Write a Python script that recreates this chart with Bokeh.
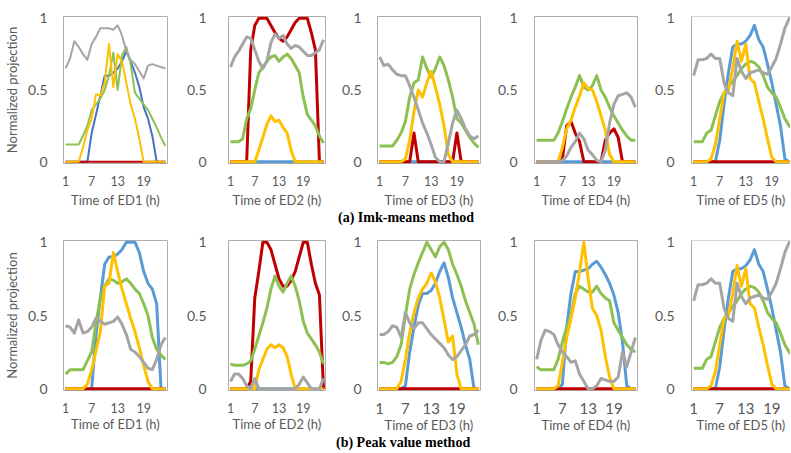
from bokeh.plotting import figure
from bokeh.layouts import row, column
from bokeh.models import Div, FixedTicker, Range1d, Span
from bokeh.embed import file_html
from bokeh.resources import INLINE

hours = [1, 2, 3, 4, 5, 6, 7, 8, 9, 10, 11, 12, 13, 14, 15, 16, 17, 18, 19, 20, 21, 22, 23, 24]
x_ticks = [1, 7, 13, 19]
x_tick_labels = ["1", "7", "13", "19"]
y_ticks = [0, 0.5, 1]
y_tick_labels = ["0", "0.5", "1"]
ed_names = ["ED1", "ED2", "ED3", "ED4", "ED5"]
captions = ["(a) Imk-means method", "(b) Peak value method"]
y_title = "Normalized projection"

# ---------------- (a) Imk-means method ----------------
a_ed1_blue = [0, 0, 0, 0, 0, 0, 0.2, 0.33, 0.46, 0.6, 0.6, 0.62, 0.65, 0.7, 0.77, 0.7, 0.62, 0.52, 0.38, 0.3, 0.18, 0, 0, 0]
a_ed1_red = [0, 0, 0, 0, 0, 0, 0, 0, 0, 0, 0, 0, 0, 0, 0, 0, 0, 0, 0, 0, 0, 0, 0, 0]
a_ed1_green = [0.12, 0.12, 0.12, 0.12, 0.18, 0.25, 0.36, 0.4, 0.44, 0.5, 0.6, 0.76, 0.5, 0.74, 0.8, 0.68, 0.48, 0.44, 0.4, 0.36, 0.3, 0.24, 0.17, 0.11]
a_ed1_yellow = [0, 0, 0, 0, 0.1, 0.22, 0.3, 0.47, 0.46, 0.55, 0.82, 0.52, 0.75, 0.7, 0.55, 0.4, 0.3, 0.16, 0, 0, 0, 0, 0, 0]
a_ed1_gray = [0.65, 0.72, 0.84, 0.8, 0.75, 0.71, 0.82, 0.87, 0.93, 0.93, 0.93, 0.92, 0.95, 0.88, 0.77, 0.71, 0.68, 0.63, 0.58, 0.67, 0.68, 0.67, 0.66, 0.65]

a_ed2_blue = [0, 0, 0, 0, 0, 0, 0, 0, 0, 0, 0, 0, 0, 0, 0, 0, 0, 0, 0, 0, 0, 0, 0, 0]
a_ed2_red = [0, 0, 0, 0, 0, 0.78, 0.95, 1, 1, 1, 0.95, 0.9, 0.86, 0.84, 0.87, 0.92, 0.97, 1, 1, 1, 0.9, 0.78, 0, 0]
a_ed2_green = [0.14, 0.14, 0.14, 0.16, 0.3, 0.37, 0.5, 0.62, 0.66, 0.7, 0.73, 0.74, 0.7, 0.73, 0.75, 0.72, 0.67, 0.62, 0.45, 0.33, 0.29, 0.25, 0.18, 0.13]
a_ed2_yellow = [0, 0, 0, 0, 0, 0, 0, 0.08, 0.17, 0.26, 0.32, 0.28, 0.29, 0.24, 0.2, 0.08, 0, 0, 0, 0, 0, 0, 0, 0]
a_ed2_gray = [0.66, 0.73, 0.77, 0.82, 0.87, 0.86, 0.78, 0.7, 0.65, 0.7, 0.83, 0.89, 0.86, 0.88, 0.82, 0.79, 0.81, 0.8, 0.77, 0.74, 0.74, 0.76, 0.78, 0.85]

a_ed3_blue = [0, 0, 0, 0, 0, 0, 0, 0, 0, 0, 0, 0, 0, 0, 0, 0, 0, 0, 0, 0, 0, 0, 0, 0]
a_ed3_red = [0, 0, 0, 0, 0, 0, 0, 0, 0.2, 0, 0, 0, 0, 0, 0, 0, 0, 0, 0.2, 0, 0, 0, 0, 0]
a_ed3_green = [0.11, 0.11, 0.11, 0.11, 0.15, 0.2, 0.28, 0.45, 0.55, 0.57, 0.73, 0.65, 0.59, 0.65, 0.73, 0.67, 0.57, 0.45, 0.3, 0.27, 0.22, 0.17, 0.13, 0.1]
a_ed3_yellow = [0, 0, 0, 0, 0, 0, 0.02, 0.15, 0.35, 0.5, 0.45, 0.55, 0.63, 0.52, 0.4, 0.25, 0.05, 0, 0, 0, 0, 0, 0, 0]
a_ed3_gray = [0.73, 0.67, 0.68, 0.64, 0.61, 0.6, 0.6, 0.53, 0.45, 0.36, 0.27, 0.2, 0.12, 0.03, 0, 0, 0.13, 0.27, 0.36, 0.3, 0.23, 0.18, 0.16, 0.18]

a_ed4_blue = [0, 0, 0, 0, 0, 0, 0, 0, 0, 0, 0, 0, 0, 0, 0, 0, 0, 0, 0, 0, 0, 0, 0, 0]
a_ed4_red = [0, 0, 0, 0, 0, 0, 0.02, 0.25, 0.28, 0.2, 0.14, 0, 0, 0, 0, 0, 0.15, 0.2, 0.23, 0.17, 0, 0, 0, 0]
a_ed4_green = [0.15, 0.15, 0.15, 0.15, 0.15, 0.2, 0.28, 0.37, 0.45, 0.52, 0.6, 0.52, 0.5, 0.53, 0.6, 0.5, 0.45, 0.38, 0.32, 0.27, 0.22, 0.18, 0.15, 0.15]
a_ed4_yellow = [0, 0, 0, 0, 0, 0, 0.1, 0.23, 0.29, 0.38, 0.46, 0.55, 0.51, 0.5, 0.42, 0.32, 0.22, 0.05, 0, 0, 0, 0, 0, 0]
a_ed4_gray = [0, 0, 0, 0, 0, 0, 0.01, 0.04, 0.1, 0.14, 0.2, 0.16, 0.08, 0.05, 0.01, 0, 0.08, 0.27, 0.4, 0.46, 0.47, 0.48, 0.45, 0.38]

a_ed5_blue = [0, 0, 0, 0, 0, 0, 0.15, 0.4, 0.62, 0.8, 0.82, 0.82, 0.84, 0.88, 0.95, 0.85, 0.8, 0.68, 0.55, 0.4, 0.25, 0.02, 0, 0]
a_ed5_red = [0, 0, 0, 0, 0, 0, 0, 0, 0, 0, 0, 0, 0, 0, 0, 0, 0, 0, 0, 0, 0, 0, 0, 0]
a_ed5_green = [0.14, 0.14, 0.14, 0.2, 0.22, 0.32, 0.42, 0.48, 0.52, 0.56, 0.6, 0.65, 0.68, 0.7, 0.69, 0.66, 0.6, 0.52, 0.48, 0.45, 0.38, 0.3, 0.25, 0.22]
a_ed5_yellow = [0, 0, 0, 0, 0.02, 0.12, 0.3, 0.48, 0.5, 0.65, 0.84, 0.7, 0.82, 0.58, 0.55, 0.42, 0.3, 0.16, 0.03, 0, 0, 0, 0, 0]
a_ed5_gray = [0.6, 0.71, 0.71, 0.72, 0.75, 0.72, 0.72, 0.55, 0.48, 0.46, 0.72, 0.63, 0.58, 0.62, 0.63, 0.64, 0.62, 0.61, 0.66, 0.72, 0.82, 0.93, 1.0, 1.0]

# ---------------- (b) Peak value method ----------------
b_ed1_blue = [0, 0, 0, 0, 0, 0, 0, 0.37, 0.62, 0.85, 0.9, 0.9, 0.92, 0.95, 1.0, 1.0, 1.0, 0.93, 0.8, 0.72, 0.68, 0.58, 0, 0]
b_ed1_red = [0, 0, 0, 0, 0, 0, 0, 0, 0, 0, 0, 0, 0, 0, 0, 0, 0, 0, 0, 0, 0, 0, 0, 0]
b_ed1_green = [0.1, 0.13, 0.13, 0.13, 0.13, 0.19, 0.25, 0.45, 0.62, 0.7, 0.75, 0.74, 0.72, 0.73, 0.75, 0.72, 0.68, 0.65, 0.58, 0.5, 0.35, 0.27, 0.23, 0.2]
b_ed1_yellow = [0, 0, 0, 0, 0, 0.03, 0.13, 0.26, 0.39, 0.7, 0.72, 0.93, 0.8, 0.68, 0.58, 0.48, 0.39, 0.28, 0.16, 0.05, 0, 0, 0, 0]
b_ed1_gray = [0.43, 0.42, 0.38, 0.47, 0.38, 0.39, 0.42, 0.48, 0.46, 0.44, 0.45, 0.46, 0.49, 0.44, 0.37, 0.27, 0.25, 0.22, 0.18, 0.14, 0.13, 0.2, 0.3, 0.35]

b_ed2_blue = [0, 0, 0, 0, 0, 0, 0, 0, 0, 0, 0, 0, 0, 0, 0, 0, 0, 0, 0, 0, 0, 0, 0, 0]
b_ed2_red = [0, 0, 0, 0, 0, 0.05, 0.62, 0.8, 1, 1, 0.95, 0.85, 0.75, 0.7, 0.7, 0.74, 0.8, 0.9, 1, 1, 0.85, 0.72, 0.64, 0]
b_ed2_green = [0.17, 0.16, 0.16, 0.16, 0.17, 0.19, 0.27, 0.36, 0.45, 0.55, 0.68, 0.77, 0.7, 0.66, 0.72, 0.77, 0.7, 0.6, 0.46, 0.38, 0.34, 0.3, 0.25, 0.17]
b_ed2_yellow = [0, 0, 0, 0, 0, 0, 0, 0.13, 0.2, 0.27, 0.3, 0.28, 0.3, 0.28, 0.22, 0.1, 0, 0, 0, 0, 0, 0, 0, 0]
b_ed2_gray = [0.05, 0.1, 0.1, 0.07, 0.02, 0, 0.07, 0, 0, 0, 0, 0, 0, 0, 0, 0, 0, 0.03, 0.08, 0.04, 0, 0, 0, 0.07]

b_ed3_blue = [0, 0, 0, 0, 0, 0, 0.02, 0.25, 0.42, 0.57, 0.65, 0.65, 0.67, 0.72, 0.8, 0.86, 0.76, 0.62, 0.52, 0.42, 0.3, 0.2, 0, 0]
b_ed3_red = [0, 0, 0, 0, 0, 0, 0, 0, 0, 0, 0, 0, 0, 0, 0, 0, 0, 0, 0, 0, 0, 0, 0, 0]
b_ed3_green = [0.18, 0.18, 0.17, 0.18, 0.22, 0.3, 0.5, 0.68, 0.78, 0.86, 0.93, 1.0, 0.95, 0.9, 0.97, 1.0, 0.95, 0.85, 0.78, 0.7, 0.6, 0.52, 0.44, 0.3]
b_ed3_yellow = [0, 0, 0, 0, 0, 0.05, 0.2, 0.38, 0.52, 0.62, 0.68, 0.72, 0.79, 0.73, 0.62, 0.47, 0.32, 0.36, 0.1, 0, 0, 0, 0, 0]
b_ed3_gray = [0.37, 0.37, 0.39, 0.43, 0.42, 0.35, 0.52, 0.45, 0.41, 0.45, 0.45, 0.41, 0.37, 0.34, 0.31, 0.28, 0.23, 0.2, 0.22, 0.26, 0.3, 0.36, 0.37, 0.4]

b_ed4_blue = [0, 0, 0, 0, 0, 0, 0.03, 0.42, 0.65, 0.8, 0.8, 0.81, 0.82, 0.85, 0.87, 0.83, 0.78, 0.72, 0.64, 0.52, 0.32, 0.02, 0, 0]
b_ed4_red = [0, 0, 0, 0, 0, 0, 0, 0, 0, 0, 0, 0, 0, 0, 0, 0, 0, 0, 0, 0, 0, 0, 0, 0]
b_ed4_green = [0.15, 0.13, 0.13, 0.13, 0.13, 0.2, 0.32, 0.42, 0.5, 0.65, 0.7, 0.68, 0.66, 0.66, 0.7, 0.65, 0.62, 0.6, 0.45, 0.4, 0.35, 0.3, 0.27, 0.25]
b_ed4_yellow = [0, 0, 0, 0, 0, 0.02, 0.18, 0.35, 0.48, 0.62, 0.8, 1.0, 0.75, 0.55, 0.5, 0.4, 0.22, 0.08, 0, 0, 0, 0, 0, 0]
b_ed4_gray = [0.2, 0.33, 0.4, 0.39, 0.37, 0.3, 0.25, 0.22, 0.18, 0.19, 0.1, 0.05, 0, 0, 0.02, 0.07, 0.06, 0.05, 0.05, 0.08, 0.25, 0.15, 0.25, 0.35]

b_ed5_blue = [0, 0, 0, 0, 0, 0, 0.15, 0.4, 0.62, 0.8, 0.82, 0.82, 0.84, 0.88, 0.95, 0.85, 0.8, 0.68, 0.55, 0.4, 0.25, 0.02, 0, 0]
b_ed5_red = [0, 0, 0, 0, 0, 0, 0, 0, 0, 0, 0, 0, 0, 0, 0, 0, 0, 0, 0, 0, 0, 0, 0, 0]
b_ed5_green = [0.14, 0.14, 0.14, 0.2, 0.22, 0.32, 0.42, 0.48, 0.52, 0.56, 0.6, 0.65, 0.68, 0.7, 0.69, 0.66, 0.6, 0.52, 0.48, 0.45, 0.38, 0.3, 0.25, 0.22]
b_ed5_yellow = [0, 0, 0, 0, 0.02, 0.12, 0.3, 0.48, 0.5, 0.65, 0.84, 0.7, 0.82, 0.58, 0.55, 0.42, 0.3, 0.16, 0.03, 0, 0, 0, 0, 0]
b_ed5_gray = [0.6, 0.71, 0.71, 0.72, 0.75, 0.72, 0.72, 0.55, 0.48, 0.46, 0.72, 0.63, 0.58, 0.62, 0.63, 0.64, 0.62, 0.61, 0.66, 0.72, 0.82, 0.93, 1.0, 1.0]

panels_a = [
    [a_ed1_blue, a_ed1_red, a_ed1_green, a_ed1_yellow, a_ed1_gray],
    [a_ed2_blue, a_ed2_red, a_ed2_green, a_ed2_yellow, a_ed2_gray],
    [a_ed3_blue, a_ed3_red, a_ed3_green, a_ed3_yellow, a_ed3_gray],
    [a_ed4_blue, a_ed4_red, a_ed4_green, a_ed4_yellow, a_ed4_gray],
    [a_ed5_blue, a_ed5_red, a_ed5_green, a_ed5_yellow, a_ed5_gray],
]
panels_b = [
    [b_ed1_blue, b_ed1_red, b_ed1_green, b_ed1_yellow, b_ed1_gray],
    [b_ed2_blue, b_ed2_red, b_ed2_green, b_ed2_yellow, b_ed2_gray],
    [b_ed3_blue, b_ed3_red, b_ed3_green, b_ed3_yellow, b_ed3_gray],
    [b_ed4_blue, b_ed4_red, b_ed4_green, b_ed4_yellow, b_ed4_gray],
    [b_ed5_blue, b_ed5_red, b_ed5_green, b_ed5_yellow, b_ed5_gray],
]

# ---------------- styling ----------------
FONT = "Lato"
TEXT = "#595959"
BORDER = "#ADADAD"
COLORS = ["#5B9BD5", "#C00000", "#8CC152", "#FFC000", "#A5A5A5"]
COLORS_A1 = ["#4472C4", "#C00000", "#8CC152", "#FFC000", "#A5A5A5"]

# the page template has no body margin, so the 8px offset is built in here
fig_w = [183, 155, 156, 157, 139]
border_left = [55, 35, 35, 37, 37]
border_right = [16, 13, 14, 14, 0]
ytick_standoff = [10, 16, 10, 11, 11]


def make_panel(series, col, top_row, xtick_size, lw, colors):
    if top_row:
        h, mt, mb = 210, 16, 44
    else:
        h, mt, mb = 209, 14, 44
    x_end = 24.5 if col < 4 else 23.3
    p = figure(width=fig_w[col], height=h, output_backend="svg", toolbar_location=None,
               x_range=Range1d(0.5, x_end), y_range=Range1d(-0.012, 1.012),
               min_border_left=border_left[col], min_border_right=border_right[col],
               min_border_top=mt, min_border_bottom=mb)
    p.grid.visible = False
    for ys, c in zip(series, colors):
        p.line(hours, ys, line_color=c, line_width=lw, line_join="round")

    p.xaxis.ticker = FixedTicker(ticks=x_ticks)
    p.xaxis.major_label_overrides = dict(zip(x_ticks, x_tick_labels))
    p.yaxis.ticker = FixedTicker(ticks=y_ticks)
    p.yaxis.major_label_overrides = dict(zip(y_ticks, y_tick_labels))
    p.axis.major_tick_line_color = None
    p.axis.minor_tick_line_color = None
    p.axis.major_label_text_color = TEXT
    p.axis.major_label_text_font = FONT
    p.yaxis.major_label_text_font_size = "14px"
    p.xaxis.major_label_text_font_size = xtick_size
    p.yaxis.major_label_standoff = ytick_standoff[col]
    p.xaxis.major_label_standoff = 6
    p.xaxis.axis_label = "Time of " + ed_names[col] + " (h)"
    p.axis.axis_label_text_font = FONT
    p.axis.axis_label_text_font_size = "13px"
    p.axis.axis_label_text_font_style = "normal"
    p.axis.axis_label_text_color = TEXT
    p.xaxis.axis_label_standoff = 3 if top_row else 0
    if col == 0:
        p.yaxis.axis_label = y_title
        p.yaxis.axis_label_standoff = 5
    if col < 4:
        p.outline_line_color = BORDER
        p.outline_line_width = 1
        p.axis.axis_line_color = None
    else:
        p.outline_line_color = None
        p.axis.axis_line_color = BORDER
        p.add_layout(Span(location=1.012, dimension="width", line_color=BORDER, line_width=1))
    return p


row_a = []
row_b = []
for i in range(5):
    ca = COLORS_A1 if i == 0 else COLORS
    row_a.append(make_panel(panels_a[i], i, True, "12.5px", 2 if i == 0 else 3, ca))
    row_b.append(make_panel(panels_b[i], i, False, "12.5px" if i < 2 else "15px", 3, COLORS))


def caption(text, pad):
    return Div(text='<div style="font-family:\'Liberation Serif\';font-weight:bold;font-size:14px;'
                    'color:#000;line-height:16px;white-space:nowrap;padding-left:%dpx">%s</div>' % (pad, text),
               width=790, height=16, margin=0)


layout = column(row(*row_a, spacing=0), caption(captions[0], 338),
                row(*row_b, spacing=0), caption(captions[1], 336), spacing=0)

open("out.html", "w").write(file_html(layout, INLINE))
